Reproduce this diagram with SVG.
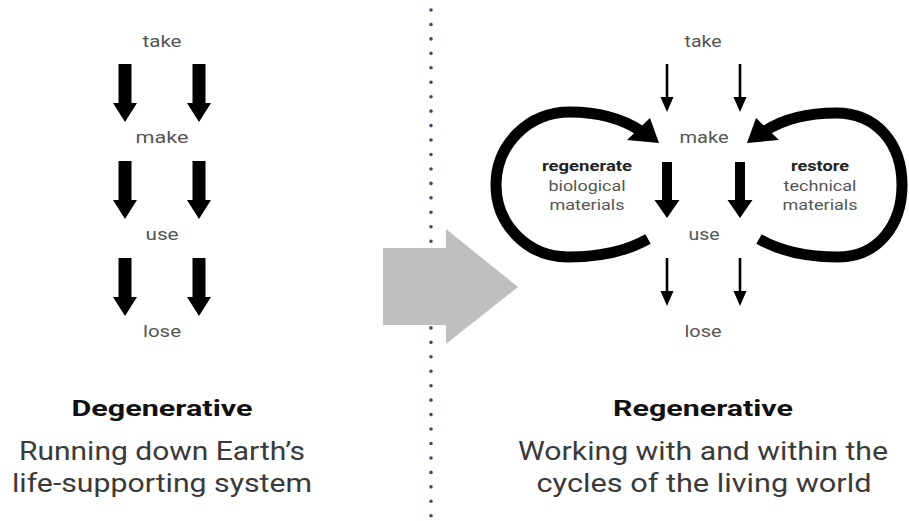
<svg xmlns="http://www.w3.org/2000/svg" xmlns:xlink="http://www.w3.org/1999/xlink" width="909" height="521" viewBox="0 0 909 521">
  <style>
    text { font-family: Roboto, "Liberation Sans", sans-serif; text-anchor: middle; }
    .lbl { font-size: 16px; fill: #555; }
    .loop { font-size: 15px; fill: #555; }
    .loop-b { font-size: 15px; font-weight: bold; fill: #222; }
    .head { font-size: 22px; font-weight: bold; fill: #111; }
    .body { font-size: 25px; fill: #3a3a3a; }
    .arrow { fill: #000; }
    .cycle { fill: none; stroke: #000; stroke-width: 11; stroke-linecap: butt; }
    .divider { stroke: #3d4b63; stroke-width: 3.6; stroke-linecap: round; stroke-dasharray: 0 14.45; fill: none; }
  </style>
  <defs>
    <!-- block arrows, drawn with the shaft top at the origin -->
    <path id="thickL" d="M-6.5 0 H6.5 V39 H12 L0 58 L-12 39 H-6.5 Z"/>
    <path id="thickR" d="M-5 0 H5 V38 H12.5 L0 56 L-12.5 38 H-5 Z"/>
    <path id="thin" d="M-1.3 0 H1.3 V33 H6.5 L0 48 L-6.5 33 H-1.3 Z"/>
  </defs>

  <!-- dotted divider between the two halves -->
  <line class="divider" x1="431" y1="10" x2="431" y2="521"/>

  <!-- big grey transition arrow -->
  <polygon id="transition" fill="#bfbfbf" points="383,248 446,248 446,229 518,287 446,344 446,325 383,325"/>

  <!-- connectors -->
  <g id="connectors" class="arrow">
    <!-- degenerative: straight line flow -->
    <use xlink:href="#thickL" x="125" y="64"/>
    <use xlink:href="#thickL" x="199" y="64"/>
    <use xlink:href="#thickL" x="125" y="161"/>
    <use xlink:href="#thickL" x="199" y="161"/>
    <use xlink:href="#thickL" x="125" y="258"/>
    <use xlink:href="#thickL" x="199" y="258"/>
    <!-- regenerative: flow with cycles -->
    <use xlink:href="#thin" x="667" y="64"/>
    <use xlink:href="#thin" x="740" y="64"/>
    <use xlink:href="#thickR" x="667" y="162"/>
    <use xlink:href="#thickR" x="740" y="162"/>
    <use xlink:href="#thin" x="667" y="258"/>
    <use xlink:href="#thin" x="740" y="258"/>
    <!-- biological cycle -->
    <path class="cycle" d="M648 239 C625 252 600 257 568 257 C528 257 496 225 496 185 C496 145 528 112 570 112 C600 112 624 120 641 131"/>
    <polygon points="659,143 650,118 627,140"/>
    <!-- technical cycle -->
    <path class="cycle" d="M759 239 C782 252 807 257 838 257 C878 257 902 225 902 185 C902 145 878 113 836 113 C806 113 782 120 765 131"/>
    <polygon points="747,143 756,118 779,140"/>
  </g>

  <!-- degenerative column -->
  <g id="deg-take"><text class="lbl" x="162" y="47" textLength="39" lengthAdjust="spacingAndGlyphs">take</text></g>
  <g id="deg-make"><text class="lbl" x="162" y="143" textLength="53" lengthAdjust="spacingAndGlyphs">make</text></g>
  <g id="deg-use"><text class="lbl" x="162" y="240" textLength="33" lengthAdjust="spacingAndGlyphs">use</text></g>
  <g id="deg-lose"><text class="lbl" x="162" y="337" textLength="38" lengthAdjust="spacingAndGlyphs">lose</text></g>

  <!-- regenerative column -->
  <g id="reg-take"><text class="lbl" x="703" y="47" textLength="37" lengthAdjust="spacingAndGlyphs">take</text></g>
  <g id="reg-make"><text class="lbl" x="704" y="143" textLength="49" lengthAdjust="spacingAndGlyphs">make</text></g>
  <g id="reg-use"><text class="lbl" x="704" y="240" textLength="31" lengthAdjust="spacingAndGlyphs">use</text></g>
  <g id="reg-lose"><text class="lbl" x="703" y="337" textLength="37" lengthAdjust="spacingAndGlyphs">lose</text></g>

  <g id="bio-cycle">
    <text class="loop-b" x="587" y="171" textLength="90" lengthAdjust="spacingAndGlyphs">regenerate</text>
    <text class="loop" x="587" y="191" textLength="77" lengthAdjust="spacingAndGlyphs">biological</text>
    <text class="loop" x="587" y="210" textLength="75" lengthAdjust="spacingAndGlyphs">materials</text>
  </g>
  <g id="tech-cycle">
    <text class="loop-b" x="820" y="171" textLength="58" lengthAdjust="spacingAndGlyphs">restore</text>
    <text class="loop" x="820" y="191" textLength="73" lengthAdjust="spacingAndGlyphs">technical</text>
    <text class="loop" x="820" y="210" textLength="75" lengthAdjust="spacingAndGlyphs">materials</text>
  </g>

  <!-- captions -->
  <g id="caption-degenerative">
    <text class="head" x="162" y="416" textLength="181" lengthAdjust="spacingAndGlyphs">Degenerative</text>
    <text class="body" x="162" y="460" textLength="286" lengthAdjust="spacingAndGlyphs">Running down Earth’s</text>
    <text class="body" x="162" y="492" textLength="300" lengthAdjust="spacingAndGlyphs">life-supporting system</text>
  </g>
  <g id="caption-regenerative">
    <text class="head" x="703" y="416" textLength="180" lengthAdjust="spacingAndGlyphs">Regenerative</text>
    <text class="body" x="703" y="460" textLength="370" lengthAdjust="spacingAndGlyphs">Working with and within the</text>
    <text class="body" x="704" y="492" textLength="335" lengthAdjust="spacingAndGlyphs">cycles of the living world</text>
  </g>
</svg>
